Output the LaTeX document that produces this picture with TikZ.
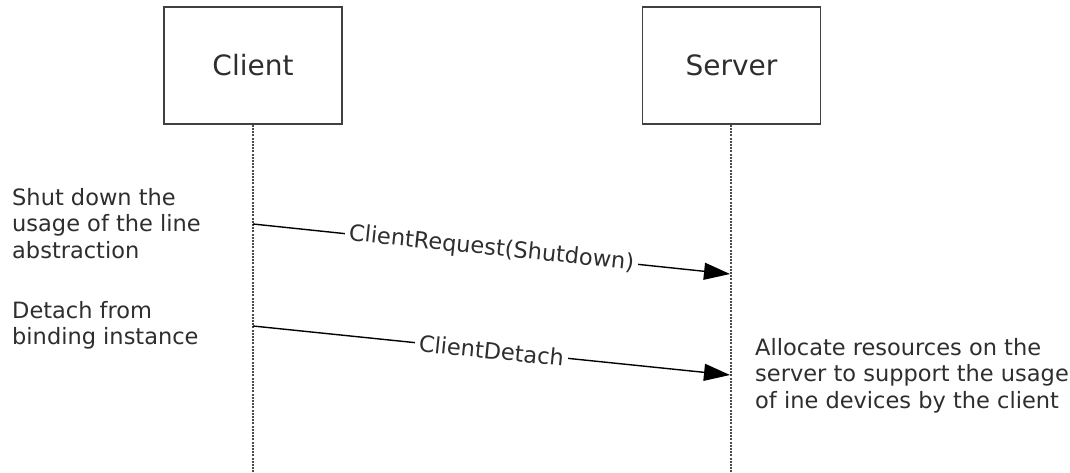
\documentclass[tikz,border=0pt]{standalone}
\usepackage{fontspec}
\setmainfont{DejaVu Sans}
\usetikzlibrary{arrows.meta}
\definecolor{txt}{HTML}{2E2E2E}
\definecolor{life}{HTML}{4A4A4A}
\begin{document}
\begin{tikzpicture}[x=1pt,y=-1pt,
  actor/.style={draw=black!75,line width=1.5pt,minimum width=178pt,minimum height=117pt,inner sep=0pt,text=txt,font=\fontsize{28}{33}\selectfont},
  lifeline/.style={draw=life,line width=2.2pt,dash pattern=on 2pt off 1.2pt},
  note/.style={align=left,inner sep=0pt,text=txt,font=\fontsize{22.5}{26.5}\selectfont},
  msg/.style={draw=black,line width=1.4pt,-{Triangle[length=26pt,width=17pt]}},
  msglabel/.style={sloped,fill=white,inner sep=4pt,text=txt,font=\fontsize{22.5}{26.5}\selectfont}
]
\useasboundingbox (0,0) rectangle (1070,473);
\node[actor] (client) at (253,65.5) {Client};
\node[actor] (server) at (731.5,65.5) {Server};
\coordinate (cend) at (253,473);
\coordinate (send) at (731,473);
\draw[lifeline] (client.south) -- (cend);
\draw[lifeline] (server.south -| send) -- (send);
\coordinate (c1) at (253,224);
\coordinate (s1) at (730,274);
\coordinate (c2) at (253,326);
\coordinate (s2) at (730,375);
\draw[msg] (c1) -- node[msglabel] (l1) {ClientRequest(Shutdown)} (s1);
\draw[msg] (c2) -- node[msglabel] (l2) {ClientDetach} (s2);
\node[note,anchor=north west] (n1) at (12,188) {Shut down the\\usage of the line\\abstraction};
\node[note,anchor=north west] (n2) at (12,301) {Detach from\\binding instance};
\node[note,anchor=north west] (n3) at (755,338) {Allocate resources on the\\server to support the usage\\of ine devices by the client};
\end{tikzpicture}
\end{document}
